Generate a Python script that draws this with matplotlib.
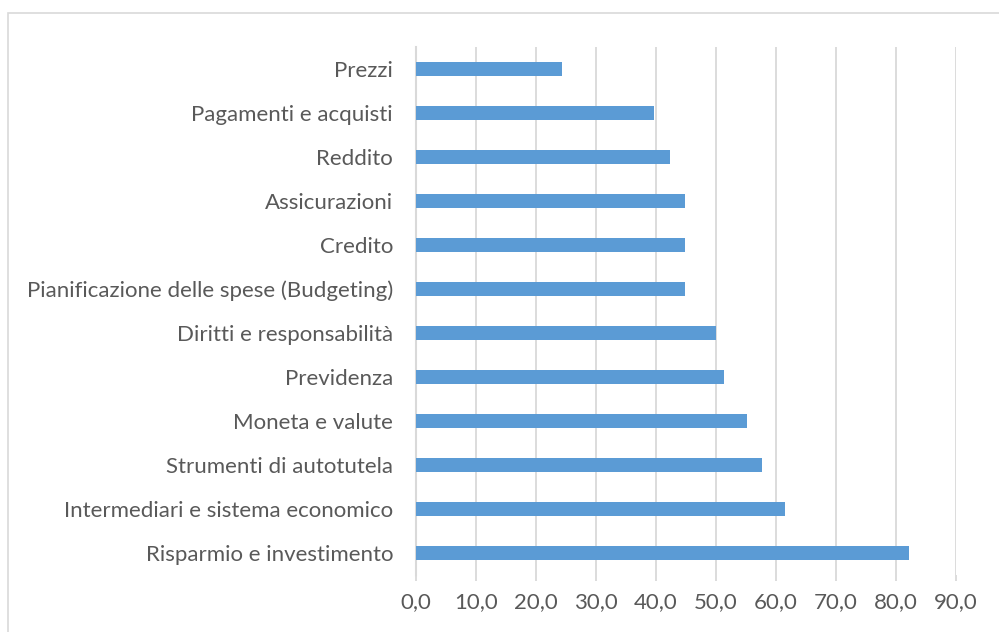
import matplotlib
matplotlib.use('Agg')
import matplotlib.pyplot as plt
from matplotlib.patches import Rectangle
from matplotlib.ticker import FuncFormatter

categories = [
    'Risparmio e investimento',
    'Intermediari e sistema economico',
    'Strumenti di autotutela',
    'Moneta e valute',
    'Previdenza',
    'Diritti e responsabilità',
    'Pianificazione delle spese (Budgeting)',
    'Credito',
    'Assicurazioni',
    'Reddito',
    'Pagamenti e acquisti',
    'Prezzi',
]
values = [82.1, 61.5, 57.7, 55.1, 51.3, 50.0, 44.9, 44.9, 44.9, 42.3, 39.7, 24.4]
xticks = [0, 10, 20, 30, 40, 50, 60, 70, 80, 90]

bar_color = '#5b9bd5'
grid_color = '#d9d9d9'
text_color = '#595959'

W, H = 999, 632
fig = plt.figure(figsize=(W / 100, H / 100), dpi=100)
fig.patch.set_facecolor('white')

# outer chart frame (runs off the right/bottom edge)
fig.patches.append(Rectangle((8 / W, -0.1), 1.2, 1.1 - 13 / H, transform=fig.transFigure,
                             fill=False, edgecolor=grid_color, linewidth=1.2))

ax = fig.add_axes([416 / W, 1 - 575 / H, (956 - 416) / W, (575 - 47) / H])
ypos = list(range(len(categories)))
ax.barh(ypos, values, height=0.34, color=bar_color, zorder=3)

ax.set_xlim(0, 90)
ax.set_ylim(-0.5, len(categories) - 0.5)
ax.set_xticks(xticks)
ax.xaxis.set_major_formatter(FuncFormatter(lambda v, p: f'{v:.1f}'.replace('.', ',')))
ax.set_yticks(ypos)
ax.set_yticklabels(categories)

ax.grid(axis='x', color=grid_color, linewidth=1.3, zorder=0)
for s in ['top', 'right', 'bottom']:
    ax.spines[s].set_visible(False)
ax.spines['left'].set_color(grid_color)
ax.spines['left'].set_linewidth(1.5)

ax.tick_params(axis='x', colors=grid_color, length=4, width=1.3, pad=8,
               labelcolor=text_color, labelsize=16)
ax.tick_params(axis='y', length=0, pad=16.5, labelcolor=text_color, labelsize=16)
for lab in ax.get_xticklabels() + ax.get_yticklabels():
    lab.set_fontfamily('Lato')

fig.savefig('out.png', dpi=100)
